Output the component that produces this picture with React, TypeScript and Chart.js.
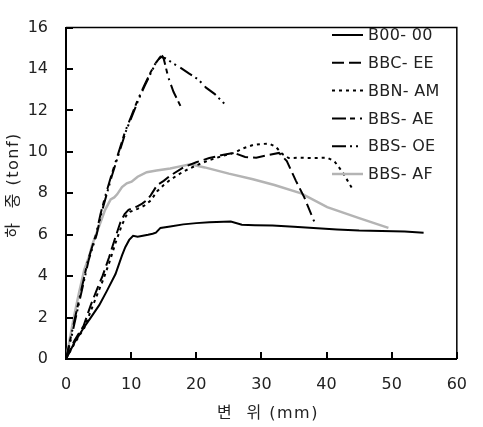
import React, { useEffect, useRef } from "react";
import { Chart, registerables } from "chart.js";

Chart.register(...registerables);

const seriesLabels = ["B00- 00", "BBC- EE", "BBN- AM", "BBS- AE", "BBS- OE", "BBS- AF"];
const xTickValues = [0, 10, 20, 30, 40, 50, 60];
const yTickValues = [0, 2, 4, 6, 8, 10, 12, 14, 16];
const xTitle = "변  위 (mm)";
const yTitle = "하  중 (tonf)";

const b00X = [0, 1.3, 2.7, 3.8, 5.1, 6.3, 7.6, 8.6, 9.1, 9.7, 10.3, 11, 11.8, 12.6, 13.3, 13.8, 14.5, 16, 18, 20, 22, 25.3, 27, 29, 31.7, 35, 38, 41.6, 45, 48.5, 52, 54.9];
const b00Y = [0, 0.8, 1.5, 2.0, 2.6, 3.3, 4.1, 5.0, 5.4, 5.75, 5.95, 5.9, 5.95, 6.0, 6.05, 6.1, 6.33, 6.4, 6.5, 6.56, 6.6, 6.64, 6.48, 6.46, 6.44, 6.38, 6.32, 6.25, 6.2, 6.18, 6.15, 6.1];

const bbcX = [0, 1.3, 2.7, 3.8, 4.8, 5.6, 6.6, 7.4, 8.35, 9.0, 9.6, 10.8, 11.7, 12.5, 13.0, 14.0, 15, 16, 18, 20, 22, 24, 25.8, 27.5, 29.2, 31, 32.7, 33.9, 35.3, 36.6, 38.1];
const bbcY = [0, 0.9, 1.6, 2.6, 3.4, 4.0, 4.9, 5.7, 6.6, 7.0, 7.2, 7.35, 7.5, 7.7, 7.9, 8.4, 8.6, 8.85, 9.25, 9.5, 9.7, 9.85, 9.95, 9.75, 9.72, 9.85, 9.95, 9.56, 8.6, 7.79, 6.64];

const bbnX = [0, 1.4, 2.8, 3.9, 4.9, 5.8, 6.8, 7.6, 8.5, 9.2, 9.8, 11, 12, 13, 14, 15, 16, 18, 20, 22, 24, 25.8, 27, 28.7, 30, 31.2, 32.2, 33.2, 34.2, 36, 38, 40.1, 41.2, 42.5, 44];
const bbnY = [0, 0.8, 1.5, 2.4, 3.2, 3.9, 4.8, 5.6, 6.4, 6.9, 7.1, 7.25, 7.4, 7.65, 8.1, 8.4, 8.65, 9.05, 9.35, 9.6, 9.8, 9.95, 10.15, 10.33, 10.38, 10.4, 10.25, 9.9, 9.7, 9.72, 9.7, 9.72, 9.55, 9.0, 8.2];

const bbsAeX = [0, 0.7, 1.4, 2.4, 3.4, 4.6, 5.3, 6.1, 6.9, 7.6, 8.4, 9.1, 10, 11, 12, 13, 13.7, 14.3, 14.8, 15.0, 15.7, 16.5, 17.6];
const bbsAeY = [0, 1.0, 2.0, 3.4, 4.8, 6.0, 7.0, 7.94, 8.8, 9.5, 10.3, 11.0, 11.7, 12.5, 13.2, 13.85, 14.25, 14.5, 14.62, 14.5, 13.6, 12.9, 12.2];

const bbsOeX = [0, 0.8, 1.5, 2.5, 3.5, 4.7, 5.4, 6.2, 7.0, 7.7, 8.5, 9.2, 10.1, 11.1, 12.1, 13.1, 13.8, 14.5, 15.4, 16.3, 17.4, 18.8, 20.3, 21.5, 22.8, 24.4];
const bbsOeY = [0, 1.0, 2.0, 3.4, 4.8, 6.0, 7.0, 7.9, 8.8, 9.5, 10.3, 11.0, 11.7, 12.5, 13.2, 13.85, 14.3, 14.6, 14.5, 14.3, 14.1, 13.8, 13.5, 13.1, 12.8, 12.3];

const bbsAfX = [0, 0.6, 1.2, 2.0, 2.8, 3.6, 4.0, 4.6, 5.3, 6.0, 6.86, 7.4, 7.85, 8.6, 9.33, 10.07, 11, 12.4, 13.9, 16, 17.5, 19.1, 21.3, 25, 28.7, 32, 36.1, 40.1, 45, 49.5];
const bbsAfY = [0, 1.0, 2.0, 3.2, 4.3, 5.0, 5.5, 6.0, 6.6, 7.2, 7.71, 7.8, 7.95, 8.3, 8.48, 8.56, 8.8, 9.02, 9.1, 9.2, 9.3, 9.4, 9.25, 8.95, 8.68, 8.4, 8.0, 7.33, 6.8, 6.33];

const seriesX = [b00X, bbcX, bbnX, bbsAeX, bbsOeX, bbsAfX];
const seriesY = [b00Y, bbcY, bbnY, bbsAeY, bbsOeY, bbsAfY];
const seriesColors = ["#000000", "#000000", "#000000", "#000000", "#000000", "#b4b4b4"];
const seriesDashes: number[][] = [[], [12, 5], [3, 4], [14, 4, 5, 5, 2, 5], [14, 4, 2, 4, 2, 5], []];
const seriesWidths = [2, 2, 2, 2, 2, 2.5];

const FONT = '"DejaVu Sans", "Noto Sans CJK KR", sans-serif';

const decorPlugin = {
  id: "decor",
  afterDraw(chart: any) {
    const ctx = chart.ctx as CanvasRenderingContext2D;
    const area = chart.chartArea;
    const xs = chart.scales.x;
    const ys = chart.scales.y;
    ctx.save();
    ctx.strokeStyle = "#000";
    ctx.lineWidth = 1.5;
    ctx.setLineDash([]);
    ctx.beginPath();
    ctx.moveTo(area.left, area.top);
    ctx.lineTo(area.right, area.top);
    ctx.lineTo(area.right, area.bottom);
    ctx.stroke();
    ctx.lineWidth = 2;
    ctx.beginPath();
    xTickValues.forEach((v) => {
      if (v === 0) return;
      const px = Math.round(xs.getPixelForValue(v));
      ctx.moveTo(px, area.bottom);
      ctx.lineTo(px, area.bottom - 7);
    });
    yTickValues.forEach((v) => {
      if (v === 0) return;
      const py = Math.round(ys.getPixelForValue(v));
      ctx.moveTo(area.left, py);
      ctx.lineTo(area.left + 7, py);
    });
    ctx.stroke();

    ctx.fillStyle = "#222";
    ctx.font = "16px " + FONT;
    (ctx as any).letterSpacing = "1.5px";
    ctx.textAlign = "center";
    ctx.textBaseline = "middle";
    ctx.fillText(xTitle, 268, 414);
    ctx.save();
    ctx.translate(14, 185);
    ctx.rotate(-Math.PI / 2);
    ctx.fillText(yTitle, 0, 0);
    ctx.restore();

    (ctx as any).letterSpacing = "0.3px";
    ctx.textAlign = "left";
    chart.data.datasets.forEach((ds: any, i: number) => {
      const y = 35 + i * 27.8;
      ctx.strokeStyle = ds.borderColor;
      ctx.lineWidth = ds.borderWidth;
      ctx.setLineDash(ds.borderDash || []);
      ctx.beginPath();
      ctx.moveTo(332, y);
      ctx.lineTo(363, y);
      ctx.stroke();
      ctx.setLineDash([]);
      ctx.fillStyle = "#222";
      ctx.fillText(ds.label, 368, y + 1);
    });
    ctx.restore();
  },
};

export default function App() {
  const ref = useRef<HTMLCanvasElement | null>(null);
  useEffect(() => {
    if (!ref.current) return;
    const datasets = seriesLabels.map((label, i) => ({
      label,
      data: seriesX[i].map((x, j) => ({ x, y: seriesY[i][j] })),
      borderColor: seriesColors[i],
      backgroundColor: seriesColors[i],
      borderWidth: seriesWidths[i],
      borderDash: seriesDashes[i],
      pointRadius: 0,
      fill: false,
      tension: 0,
    }));
    const chart = new Chart(ref.current, {
      type: "line",
      data: { datasets },
      options: {
        animation: false,
        responsive: false,
        maintainAspectRatio: false,
        layout: { padding: { top: 12, right: 12, left: 0, bottom: 0 } },
        plugins: { legend: { display: false }, tooltip: { enabled: false } },
        scales: {
          x: {
            type: "linear",
            min: 0,
            max: 60,
            afterFit: (s: any) => {
              s.height = 68;
            },
            afterBuildTicks: (s: any) => {
              s.ticks = xTickValues.map((v) => ({ value: v }));
            },
            ticks: { padding: 16, color: "#222", font: { size: 16, family: FONT } },
            grid: { drawOnChartArea: false, drawTicks: false },
            border: { display: true, color: "#000", width: 2 },
          },
          y: {
            type: "linear",
            min: 0,
            max: 16,
            afterFit: (s: any) => {
              s.width = 66;
            },
            afterBuildTicks: (s: any) => {
              s.ticks = yTickValues.map((v) => ({ value: v }));
            },
            ticks: { padding: 18, color: "#222", font: { size: 16, family: FONT } },
            grid: { drawOnChartArea: false, drawTicks: false },
            border: { display: true, color: "#000", width: 2 },
          },
        },
      },
      plugins: [decorPlugin],
    });
    return () => chart.destroy();
  }, []);
  return (
    <div style={{ position: "absolute", left: 0, top: 0, width: 483, height: 427, background: "#fff" }}>
      <canvas ref={ref} width={483} height={427} style={{ width: 483, height: 427, display: "block" }} />
    </div>
  );
}
